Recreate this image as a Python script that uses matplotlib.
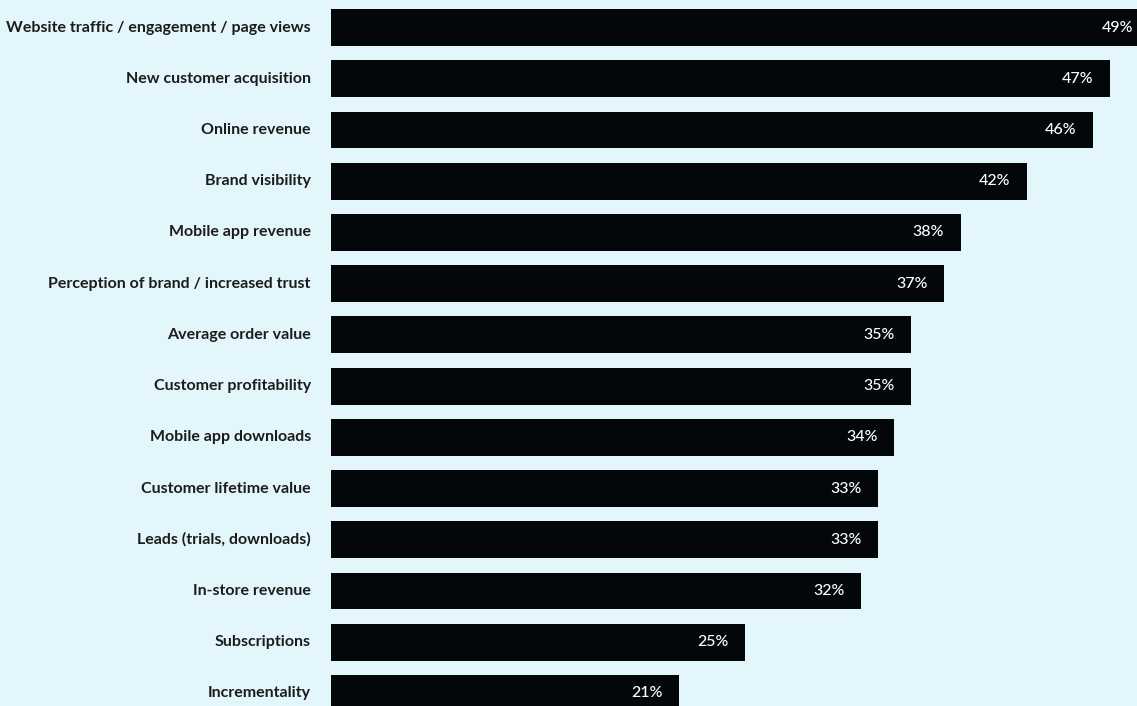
import matplotlib
matplotlib.use("Agg")
import matplotlib.pyplot as plt

categories = [
    "Website traffic / engagement / page views",
    "New customer acquisition",
    "Online revenue",
    "Brand visibility",
    "Mobile app revenue",
    "Perception of brand / increased trust",
    "Average order value",
    "Customer profitability",
    "Mobile app downloads",
    "Customer lifetime value",
    "Leads (trials, downloads)",
    "In-store revenue",
    "Subscriptions",
    "Incrementality",
]
values = [49, 47, 46, 42, 38, 37, 35, 35, 34, 33, 33, 32, 25, 21]

BG = "#e2f6fb"
BAR = "#03070a"
TEXT = "#1c1c1c"

W, H = 1137, 706
fig = plt.figure(figsize=(W / 100, H / 100), dpi=100, facecolor=BG)
ax = fig.add_axes([331 / W, 0, 1 - 331 / W, 1])
ax.set_facecolor(BG)

pitch = 51.23
first_center = 27.5
xmax = (W - 331) / 16.57
ax.barh(range(len(values)), values, height=0.72, color=BAR, left=0)
ax.set_xlim(0, xmax)
ax.set_ylim((H - first_center) / pitch, -first_center / pitch)

for i, (cat, v) in enumerate(zip(categories, values)):
    # keep the value label inside the visible area when the bar runs off the edge
    if v > xmax:
        anchor, off = xmax, -3
    else:
        anchor, off = v, -12
    ax.annotate(f"{v}%", xy=(anchor, i), xytext=(off, 0), textcoords="offset points",
                ha="right", va="center", color="white", fontsize=11.5,
                family="Lato", fontweight="medium")
    ax.annotate(cat, xy=(0, i), xytext=(-14.5, 0), textcoords="offset points",
                ha="right", va="center", color=TEXT, fontsize=11.5,
                family="Lato", fontweight="bold", annotation_clip=False)

for s in ax.spines.values():
    s.set_visible(False)
ax.set_xticks([])
ax.set_yticks([])

fig.savefig("out.png", dpi=100, facecolor=BG)
